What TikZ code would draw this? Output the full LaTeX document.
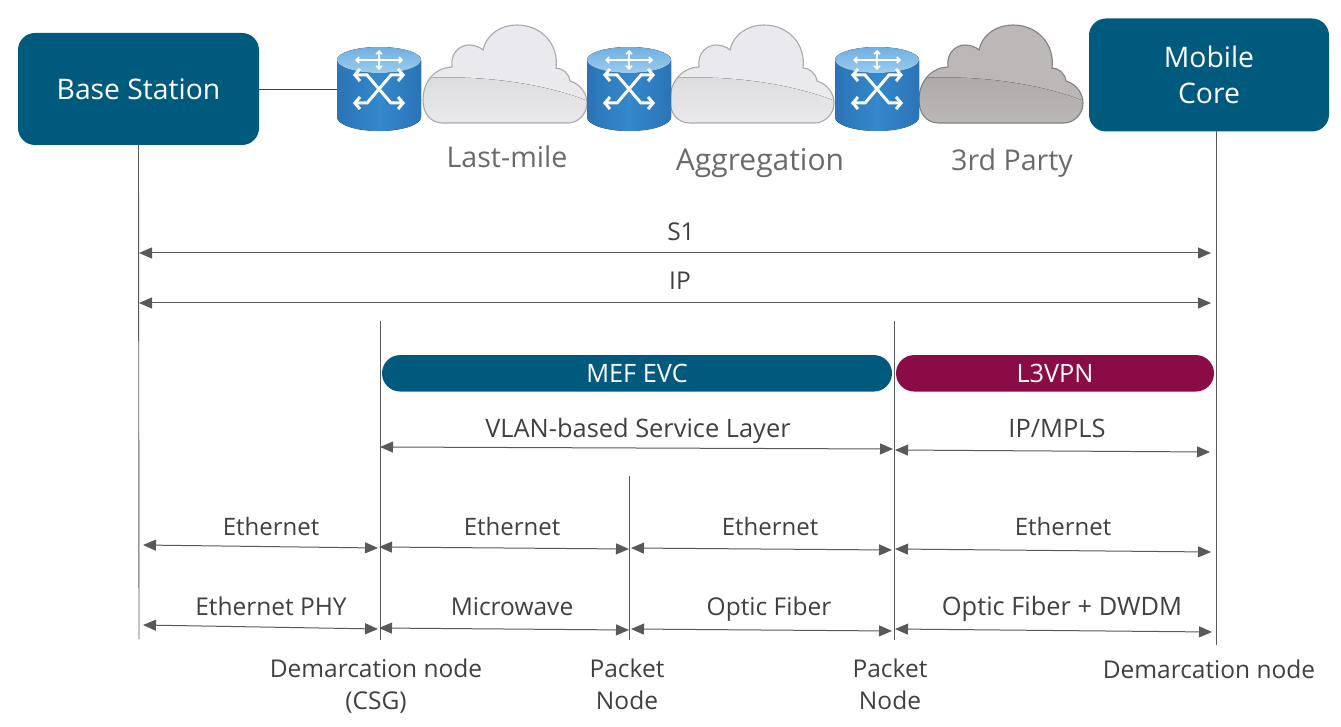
\documentclass[tikz,border=0pt]{standalone}
\usepackage{fontspec}
\setmainfont{Open Sans}
\usetikzlibrary{arrows.meta,shapes.misc}
\definecolor{teal}{HTML}{005A7E}
\definecolor{wine}{HTML}{8A0B45}
\definecolor{inkgray}{HTML}{595959}
\definecolor{txtgray}{HTML}{404040}
\definecolor{bigtxt}{HTML}{6A6A6A}
\definecolor{rside}{HTML}{3488CC}
\definecolor{rsidedark}{HTML}{2A74B6}
\definecolor{rtopa}{HTML}{6FB0E2}
\definecolor{rtopb}{HTML}{9CCBEE}
\definecolor{lcloud}{HTML}{EAE9ED}
\definecolor{lcloudband}{HTML}{DCDCDE}
\definecolor{lcloudedge}{HTML}{A9A7AB}
\definecolor{dcloud}{HTML}{BDB8B8}
\definecolor{dcloudband}{HTML}{AFAAA9}
\definecolor{dcloudedge}{HTML}{827F7E}
\tikzset{
  box/.style={fill=teal,rounded corners=17pt,text=white,align=center,inner sep=0pt,font=\fontsize{28.3}{36}\selectfont},
  pill/.style={rounded rectangle,text=white,inner sep=0pt,minimum height=36.5pt,font=\fontsize{25.3}{28}\selectfont},
  lbl/.style={text=txtgray,inner sep=0pt,align=center,anchor=base,font=\fontsize{24.5}{31.5}\selectfont},
  lblw/.style={lbl,font=\fontsize{25.4}{31.5}\selectfont},
  lbln/.style={lbl,font=\fontsize{24}{31.5}\selectfont},
  biglbl/.style={text=bigtxt,inner sep=0pt,anchor=base,font=\fontsize{28.6}{32}\selectfont},
  vline/.style={draw=inkgray,line width=0.9pt},
  span/.style={draw=inkgray,line width=1pt,{Triangle[length=13pt,width=11pt]}-{Triangle[length=13pt,width=11pt]}},
  barbA/.style={white,line width=1.7pt,{Straight Barb[length=3pt,width=6pt]}-{Straight Barb[length=3pt,width=6pt]}},
  barbB/.style={white,line width=3pt,-{Straight Barb[length=5pt,width=12pt]}},
  router/.pic={
    \fill[left color=rsidedark,right color=rsidedark,middle color=rside]
      (-42,-29) -- (-42,28) arc[start angle=180,end angle=0,x radius=42,y radius=14] -- (42,-29) -- cycle;
    \fill[top color=rtopa,bottom color=rtopb] (0,-29) ellipse[x radius=42,y radius=13];
    \draw[barbA] (-24,-29) -- (24,-29);
    \draw[barbA] (0,-39) -- (0,-19);
    \draw[barbB] (0,0) -- (12,-14) -- (26,-14);
    \draw[barbB] (0,0) -- (-12,-14) -- (-26,-14);
    \draw[barbB] (0,0) -- (12,14) -- (26,14);
    \draw[barbB] (0,0) -- (-12,14) -- (-26,14);
  },
  pics/cloud/.style n args={3}{code={
    \def\cloudpath{(21,98) .. controls (8,98) and (1,88) .. (1,75)
      .. controls (1,55) and (15,42) .. (30,42)
      .. controls (28,28) and (38,20) .. (47,20)
      .. controls (52,20) and (58,22) .. (61,25)
      .. controls (65,8) and (80,0) .. (95,0)
      .. controls (120,0) and (137,20) .. (134,43)
      .. controls (140,43) and (147,48) .. (148,56)
      .. controls (158,59) and (165,68) .. (165,78)
      .. controls (165,90) and (155,98) .. (146,98) -- cycle}
    \fill[#1] \cloudpath;
    \begin{scope}
      \clip \cloudpath;
      \fill[top color=#2,bottom color=#1]
        (0,53) .. controls (60,50) and (120,58) .. (166,76) -- (166,100) -- (0,100) -- cycle;
    \end{scope}
    \draw[#3,line width=1.1pt] \cloudpath;
  }}
}
\begin{document}
\begin{tikzpicture}[x=1pt,y=-1pt]
\useasboundingbox (0,0) rectangle (1341,727);
% end boxes
\node[box,minimum width=241pt,minimum height=112pt] (bs) at (138.5,89) {Base Station};
\node[box,minimum width=240pt,minimum height=113pt] (mc) at (1209,75) {Mobile\\Core};
% routers and clouds
\coordinate (r1w) at (337,89);
\draw[vline,draw=txtgray] (bs.east |- r1w) -- (r1w);
\pic at (422,25) {cloud={lcloud}{lcloudband}{lcloudedge}};
\pic at (669,25) {cloud={lcloud}{lcloudband}{lcloudedge}};
\pic at (918,25) {cloud={dcloud}{dcloudband}{dcloudedge}};
\pic at (379,89) {router};
\pic at (629,89) {router};
\pic at (877,89) {router};
\node[biglbl] (t1) at (507,168) {Last-mile};
\node[biglbl,font=\fontsize{30}{32}\selectfont] (t2) at (760,171) {Aggregation};
\node[biglbl] (t3) at (1012,171) {3rd Party};
% anchor coordinates of the vertical rules
\coordinate (vAb) at (139,639);
\coordinate (vBt) at (380,321); \coordinate (vBb) at (380,640);
\coordinate (vCt) at (629,476); \coordinate (vCb) at (629,640);
\coordinate (vDt) at (894,321); \coordinate (vDb) at (894,640);
\coordinate (vEt) at (1216,131); \coordinate (vEb) at (1216,645);
\draw[vline] (bs.south) -- (vAb);
\draw[vline] (vBt) -- (vBb);
\draw[vline] (vCt) -- (vCb);
\draw[vline] (vDt) -- (vDb);
\draw[vline] (vEt) -- (vEb);
% pills
\node[pill,fill=teal,minimum width=510pt] (mef) at (637,373.3) {MEF EVC};
\node[pill,fill=wine,minimum width=318pt] (l3) at (1055,373.3) {L3VPN};
% labels
\node[lbl] (s1) at (681,241) {S1};
\node[lbl] (ip) at (680,290) {IP};
\node[lblw] (vl) at (638,437) {VLAN-based Service Layer};
\node[lblw] (mp) at (1057,437) {IP/MPLS};
\node[lbln] (e1) at (271,535) {Ethernet};
\node[lbln] (e2) at (512,535) {Ethernet};
\node[lbln] (e3) at (770,535) {Ethernet};
\node[lbln] (e4) at (1063,535) {Ethernet};
\node[lbl] (p1) at (271,615) {Ethernet PHY};
\node[lbl] (p2) at (512,615) {Microwave};
\node[lbl] (p3) at (769,615) {Optic Fiber};
\node[lblw] (p4) at (1062,615) {Optic Fiber + DWDM};
\node[lbl] (d1) at (376,709) {Demarcation node\\(CSG)};
\node[lbl] (k1) at (627,709) {Packet\\Node};
\node[lbl] (k2) at (890,709) {Packet\\Node};
\node[lbl] (d2) at (1209,678) {Demarcation node};
% arrows
\coordinate (a1l) at (139,253); \coordinate (a1r) at (1211,253);
\coordinate (a2l) at (139,303); \coordinate (a2r) at (1211,303);
\coordinate (a3l) at (380,447); \coordinate (a3r) at (893,449);
\coordinate (a4l) at (895,450); \coordinate (a4r) at (1210,452);
\coordinate (b1l) at (143,545); \coordinate (b1r) at (378,548);
\coordinate (b2l) at (379,547); \coordinate (b2r) at (629,549);
\coordinate (b3l) at (631,548); \coordinate (b3r) at (892,550);
\coordinate (b4l) at (895,549); \coordinate (b4r) at (1211,552);
\coordinate (c1l) at (143,625); \coordinate (c1r) at (378,629);
\coordinate (c2l) at (379,628); \coordinate (c2r) at (629,630);
\coordinate (c3l) at (631,629); \coordinate (c3r) at (892,631);
\coordinate (c4l) at (895,629); \coordinate (c4r) at (1212,632);
\foreach \p in {a1,a2,a3,a4,b1,b2,b3,b4,c1,c2,c3,c4}
  \draw[span] (\p l) -- (\p r);
\end{tikzpicture}
\end{document}
